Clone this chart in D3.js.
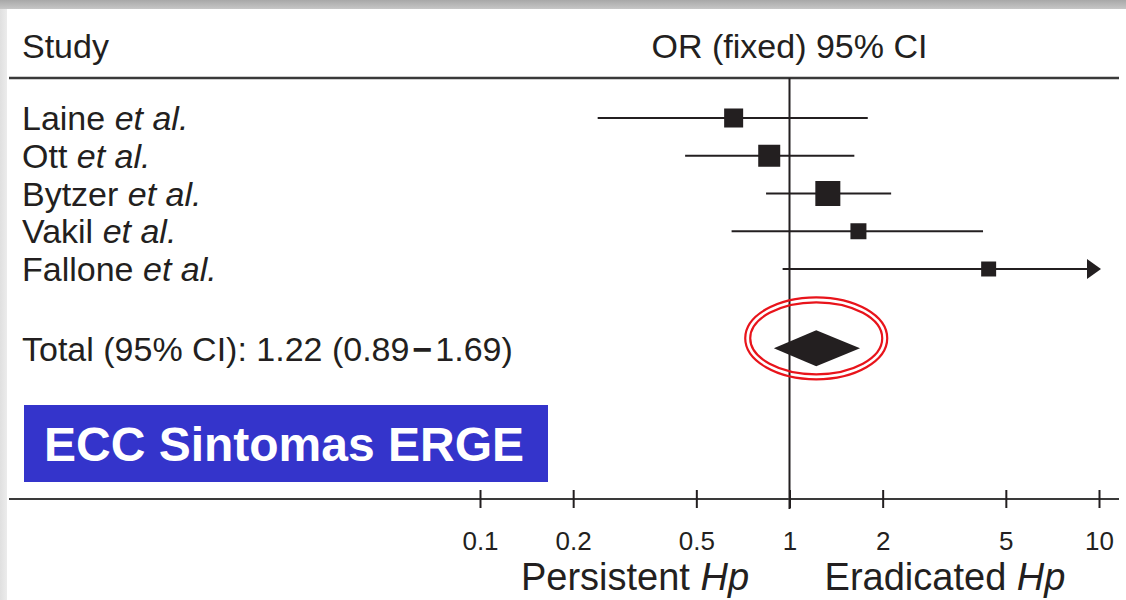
<!DOCTYPE html>
<html>
<head>
<meta charset="utf-8">
<script src="https://cdn.jsdelivr.net/npm/d3@7"></script>
<style>
    body { margin: 0; background: #fff; }
    text { font-family: "Liberation Sans", Arial, sans-serif; fill: #231f20; }
</style>
</head>
<body>
<div id="forest"></div>
<script>

// study data
let studies = ["Laine", "Ott", "Bytzer", "Vakil", "Fallone"];
let oddsRatio = [0.66, 0.86, 1.33, 1.67, 4.4];
let ciLower = [0.24, 0.46, 0.84, 0.65, 0.95];
let ciUpper = [1.79, 1.62, 2.13, 4.22, 14];
let weights = [18.5, 24.8, 32.0, 13.1, 11.5];

// pooled result
let totalOR = 1.22;
let totalLower = 0.89;
let totalUpper = 1.69;

let tickValues = [0.1, 0.2, 0.5, 1, 2, 5, 10];
let tickLabels = ["0.1", "0.2", "0.5", "1", "2", "5", "10"];

class ForestPlot {

    constructor(_parentElement) {
        this.parentElement = _parentElement;
        this.initVis();
    }

    initVis() {
        let vis = this;

        vis.width = 1126;
        vis.height = 600;

        vis.svg = d3.select("#" + vis.parentElement).append("svg")
            .attr("width", vis.width)
            .attr("height", vis.height);

        let defs = vis.svg.append("defs");

        //slide shadow along the top
        let topGrad = defs.append("linearGradient")
            .attr("id", "top-shadow")
            .attr("x1", "0").attr("y1", "0").attr("x2", "0").attr("y2", "1");
        topGrad.append("stop").attr("offset", "0%").attr("stop-color", "#a8a8a8");
        topGrad.append("stop").attr("offset", "100%").attr("stop-color", "#c6c6c6");

        let leftGrad = defs.append("linearGradient")
            .attr("id", "left-shadow")
            .attr("x1", "0").attr("y1", "0").attr("x2", "1").attr("y2", "0");
        leftGrad.append("stop").attr("offset", "0%").attr("stop-color", "#e0e0e0");
        leftGrad.append("stop").attr("offset", "100%").attr("stop-color", "#ececec");

        vis.svg.append("rect")
            .attr("x", 0).attr("y", 0)
            .attr("width", 7).attr("height", vis.height)
            .attr("fill", "url(#left-shadow)");
        vis.svg.append("rect")
            .attr("x", 0).attr("y", 0)
            .attr("width", vis.width).attr("height", 9)
            .attr("fill", "url(#top-shadow)");

        //log scale for odds ratio
        vis.x = d3.scaleLog()
            .domain([0.1, 10])
            .range([480, 1099]);

        vis.y = d3.scalePoint()
            .domain(studies)
            .range([118, 269]);
        vis.totalY = vis.y("Fallone") + 2.1 * vis.y.step();

        //square size from study weight
        vis.size = d3.scaleSqrt()
            .domain([0, d3.max(weights)])
            .range([0, 25]);

        vis.wrangleData();
    }

    wrangleData() {
        let vis = this;

        vis.rows = studies.map((s, i) => ({
            study: s,
            or: oddsRatio[i],
            lo: ciLower[i],
            hi: ciUpper[i],
            w: weights[i]
        }));

        vis.updateVis();
    }

    updateVis() {
        let vis = this;
        let ink = "#231f20";
        let xMax = vis.x.domain()[1];

        //header
        vis.svg.append("text")
            .attr("x", 22).attr("y", 46).attr("dy", "0.36em")
            .style("font-size", "34px")
            .text("Study");
        vis.svg.append("text")
            .attr("x", vis.x(1)).attr("y", 46).attr("dy", "0.36em")
            .attr("text-anchor", "middle")
            .style("font-size", "34px")
            .text("OR (fixed) 95% CI");

        vis.svg.append("line")
            .attr("x1", 9).attr("x2", 1119)
            .attr("y1", 78).attr("y2", 78)
            .attr("stroke", "#3a3a3a")
            .attr("stroke-width", 2.5);

        //line of no effect
        vis.svg.append("line")
            .attr("x1", vis.x(1)).attr("x2", vis.x(1))
            .attr("y1", 78).attr("y2", 509)
            .attr("stroke", ink)
            .attr("stroke-width", 2);

        //study labels
        let labels = vis.svg.selectAll(".study-label")
            .data(vis.rows)
            .enter()
            .append("text")
            .attr("class", "study-label")
            .attr("x", 22)
            .attr("y", d => vis.y(d.study))
            .attr("dy", "0.36em")
            .style("font-size", "34px");
        labels.append("tspan").text(d => d.study + " ");
        labels.append("tspan").style("font-style", "italic").text("et al.");

        //confidence intervals
        vis.svg.selectAll(".ci-line")
            .data(vis.rows)
            .enter()
            .append("line")
            .attr("class", "ci-line")
            .attr("x1", d => vis.x(d.lo))
            .attr("x2", d => d.hi > xMax ? vis.x(xMax) - 8 : vis.x(d.hi))
            .attr("y1", d => vis.y(d.study))
            .attr("y2", d => vis.y(d.study))
            .attr("stroke", ink)
            .attr("stroke-width", 2);

        //arrow for CI running off the scale
        vis.svg.selectAll(".ci-arrow")
            .data(vis.rows.filter(d => d.hi > xMax))
            .enter()
            .append("path")
            .attr("class", "ci-arrow")
            .attr("d", d => {
                let tip = vis.x(xMax) + 2, yy = vis.y(d.study);
                return "M" + (tip - 14) + "," + (yy - 10) + "L" + tip + "," + yy + "L" + (tip - 14) + "," + (yy + 10) + "Z";
            })
            .attr("fill", ink);

        //point estimates
        vis.svg.selectAll(".or-box")
            .data(vis.rows)
            .enter()
            .append("rect")
            .attr("class", "or-box")
            .attr("x", d => vis.x(d.or) - vis.size(d.w) / 2)
            .attr("y", d => vis.y(d.study) - vis.size(d.w) / 2)
            .attr("width", d => vis.size(d.w))
            .attr("height", d => vis.size(d.w))
            .attr("fill", ink);

        //total row
        let totalLabel = vis.svg.append("text")
            .attr("x", 22).attr("y", vis.totalY).attr("dy", "0.36em")
            .style("font-size", "34px");
        totalLabel.append("tspan").text("Total (95% CI): " + totalOR.toFixed(2) + " (" + totalLower.toFixed(2));
        totalLabel.append("tspan").attr("dx", 3).style("font-weight", "bold").text("\u2212");
        totalLabel.append("tspan").attr("dx", 3).text(totalUpper.toFixed(2) + ")");

        let ty = vis.totalY;
        vis.svg.append("path")
            .attr("d", "M" + vis.x(totalLower) + "," + ty +
                "L" + vis.x(totalOR) + "," + (ty - 18) +
                "L" + vis.x(totalUpper) + "," + ty +
                "L" + vis.x(totalOR) + "," + (ty + 18) + "Z")
            .attr("fill", ink);

        //red highlight rings
        [[71, 41], [66, 36]].forEach(r => {
            vis.svg.append("ellipse")
                .attr("cx", vis.x(totalOR))
                .attr("cy", ty - 10)
                .attr("rx", r[0])
                .attr("ry", r[1])
                .attr("fill", "none")
                .attr("stroke", "#e8141b")
                .attr("stroke-width", 2.2);
        });

        //blue label box
        vis.svg.append("rect")
            .attr("x", 24).attr("y", 405)
            .attr("width", 524).attr("height", 77)
            .attr("fill", "#3434cb");
        vis.svg.append("text")
            .attr("x", 284).attr("y", 444).attr("dy", "0.36em")
            .attr("text-anchor", "middle")
            .style("font-size", "48px")
            .style("font-weight", "bold")
            .style("fill", "#fff")
            .text("ECC Sintomas ERGE");

        //x axis
        vis.svg.append("line")
            .attr("x1", 9).attr("x2", 1119)
            .attr("y1", 499).attr("y2", 499)
            .attr("stroke", "#3a3a3a")
            .attr("stroke-width", 2);

        vis.xAxis = d3.axisBottom(vis.x)
            .tickValues(tickValues)
            .tickFormat((d, i) => tickLabels[i])
            .tickSize(9)
            .tickPadding(24);

        let axisG = vis.svg.append("g")
            .attr("class", "x-axis")
            .attr("transform", "translate(0,499)")
            .call(vis.xAxis);
        axisG.select(".domain").remove();
        axisG.selectAll(".tick line")
            .attr("y1", -9)
            .attr("y2", 9)
            .attr("stroke", ink)
            .attr("stroke-width", 2);
        axisG.selectAll(".tick text")
            .style("font-size", "26px")
            .style("font-family", "'Liberation Sans', Arial, sans-serif")
            .attr("fill", ink);

        //direction labels
        let left = vis.svg.append("text")
            .attr("x", 635).attr("y", 590)
            .attr("text-anchor", "middle")
            .style("font-size", "38px");
        left.append("tspan").text("Persistent ");
        left.append("tspan").style("font-style", "italic").text("Hp");

        let right = vis.svg.append("text")
            .attr("x", 945).attr("y", 590)
            .attr("text-anchor", "middle")
            .style("font-size", "38px");
        right.append("tspan").text("Eradicated ");
        right.append("tspan").style("font-style", "italic").text("Hp");
    }
}

new ForestPlot("forest");
</script>
</body>
</html>
